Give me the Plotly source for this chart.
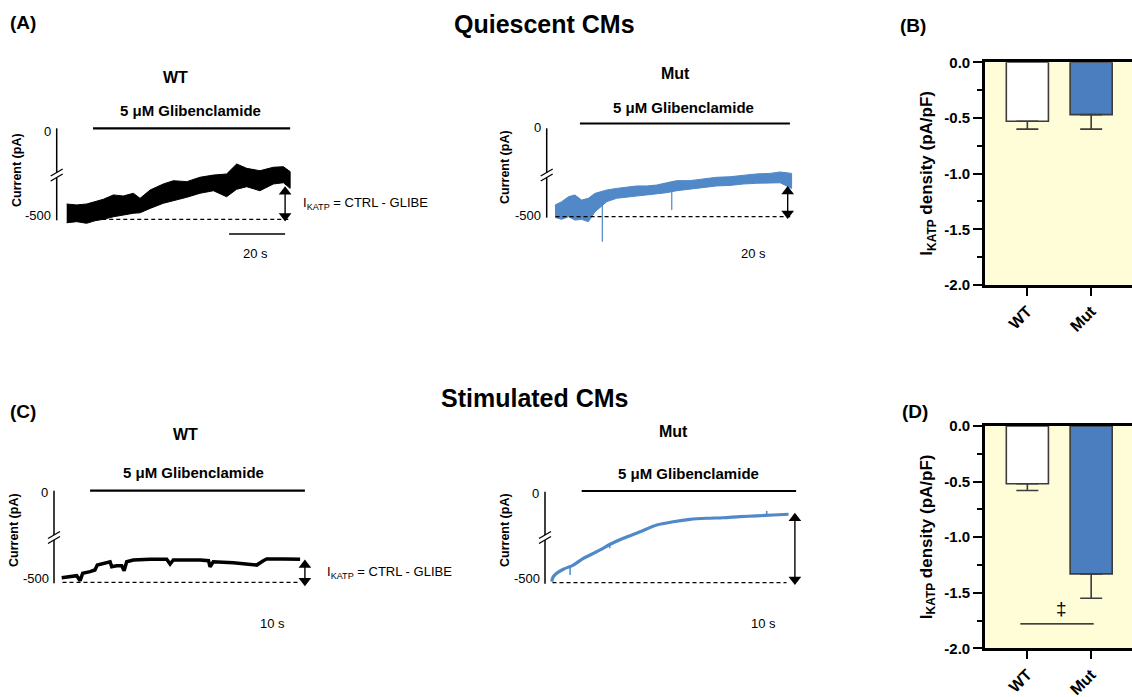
import plotly.graph_objects as go

# ---------------- DATA ----------------
# (A) Quiescent WT: noisy trace envelope (time s, current pA)
A_WT_T = [0.0, 3.6, 7.1, 10.1, 13.1, 16.7, 20.2, 23.8, 26.2, 29.8, 34.5, 38.1,
          42.9, 47.6, 52.4, 57.1, 60.7, 64.3, 69.0, 73.8, 77.4, 79.8]
A_WT_UPPER = [-416, -421, -416, -403, -390, -366, -372, -357, -385, -339, -306, -288,
              -293, -269, -257, -251, -196, -220, -233, -214, -211, -238]
A_WT_LOWER = [-519, -513, -522, -508, -500, -486, -476, -467, -464, -440, -412, -398,
              -379, -357, -343, -376, -335, -321, -343, -306, -299, -330]

# (A) Quiescent Mut
A_MUT_T = [0.0, 2.4, 4.8, 7.1, 9.5, 11.9, 14.3, 18.5, 22.0, 25.6, 29.2, 32.7,
           36.3, 39.9, 43.5, 48.2, 53.0, 57.7, 62.5, 67.3, 72.0, 76.8, 80.4, 84.5]
A_MUT_UPPER = [-434, -415, -387, -377, -406, -396, -368, -349, -340, -334, -326, -326,
               -321, -308, -296, -296, -285, -277, -274, -264, -258, -255, -247, -255]
A_MUT_LOWER = [-504, -515, -500, -519, -515, -528, -472, -415, -396, -390, -383, -377,
               -372, -364, -353, -345, -334, -326, -323, -315, -311, -308, -308, -340]
A_MUT_SPIKE_T = [16.9, 41.7]
A_MUT_SPIKE_FROM = [-420, -360]
A_MUT_SPIKE_TO = [-641, -462]

# (C) Stimulated WT
C_WT_T = [0.0, 2.5, 3.75, 4.6, 5.25, 7.1, 8.3, 8.9, 10.4, 12.1, 12.5, 13.75, 15.0,
          15.6, 16.25, 17.9, 22.1, 26.25, 27.1, 27.9, 34.6, 36.7, 37.1, 37.9, 42.9,
          47.1, 48.75, 50.4, 51.25, 55.4, 59.6]
C_WT_I = [-475, -469, -464, -491, -451, -442, -433, -406, -396, -388, -415, -410, -410,
          -437, -388, -378, -374, -374, -400, -378, -378, -382, -415, -388, -393,
          -400, -406, -382, -373, -373, -374]

# (C) Stimulated Mut
C_MUT_T = [0.0, 0.4, 1.25, 2.9, 5.4, 7.9, 9.6, 12.1, 14.6, 17.9, 22.1, 26.25, 30.4,
           34.6, 38.75, 42.9, 47.1, 51.25, 55.4, 59.2]
C_MUT_I = [-494, -467, -448, -426, -403, -366, -348, -320, -289, -256, -220, -183,
           -165, -152, -146, -143, -137, -133, -128, -124]
C_MUT_SPIKE_T = [4.6, 14.5, 53.75]
C_MUT_SPIKE_FROM = [-408, -290, -130]
C_MUT_SPIKE_TO = [-458, -311, -106]

# Glibenclamide application windows (s)
GLIB = {'A_WT': (9.4, 79.8), 'A_MUT': (8.9, 83.9), 'C_WT': (7.1, 60.8), 'C_MUT': (7.5, 61.1)}
REF_CURRENT = -500          # dashed CTRL level (pA)
SCALE_BAR_S = 20            # (A) time scale bar

# (B)/(D) I_KATP density bars
GROUPS = ['WT', 'Mut']
B_MEAN = [-0.53, -0.47]
B_SEM = [0.07, 0.13]
D_MEAN = [-0.52, -1.33]
D_SEM = [0.06, 0.22]
Y_TICKS = [0.0, -0.5, -1.0, -1.5, -2.0]
Y_TICK_TEXT = ['0.0', '-0.5', '-1.0', '-1.5', '-2.0']

# ---------------- LAYOUT HELPERS ----------------
W, H = 1132, 697
FONT = 'Liberation Sans, Arial, Helvetica, sans-serif'
BLUE_TRACE = '#5088C8'
BLUE_BAR = '#4A7EBF'
CREAM = '#FFFCD8'
EDGE = '#3c3c3c'


def fx(px):
    return px / W


def fy(py):
    return 1 - py / H


PANELS = {
    'A_WT': dict(n=1, box=(30, 95, 300, 245), t0=66.7, kx=2.8, y0=128.3, y5=219.3, axis=56.7, brk=175,
                 glib_y=128.3, adx=-1.8, atop=0.0, abot=0.0),
    'A_MUT': dict(n=2, box=(520, 95, 800, 245), t0=555.0, kx=2.8, y0=128.3, y5=216.7, axis=546.7, brk=175,
                  glib_y=123.5, adx=-1.4, atop=0.0, abot=0.0),
    'C_WT': dict(n=3, box=(30, 460, 315, 600), t0=61.7, kx=4.0, y0=490.7, y5=582.3, axis=54.0, brk=537.5,
                 glib_y=490.7, adx=1.2, atop=-14.0, abot=-10.0),
    'C_MUT': dict(n=4, box=(520, 460, 805, 600), t0=551.7, kx=4.0, y0=491.7, y5=582.7, axis=545.0, brk=537.5,
                  glib_y=491.0, adx=1.6, atop=-4.0, abot=0.0),
}


def val(p, py):
    return -500 * (py - p['y0']) / (p['y5'] - p['y0'])


def tt(p, px):
    return (px - p['t0']) / p['kx']


fig = go.Figure()
layout = {}
shapes = []
annotations = []


def ax_names(n):
    return ('x' if n == 1 else f'x{n}'), ('y' if n == 1 else f'y{n}')


def text(px, py, s, size, bold=False, xanchor='center', angle=0, color='black'):
    annotations.append(dict(xref='paper', yref='paper', x=fx(px), y=fy(py), text=(f'<b>{s}</b>' if bold else s),
                            showarrow=False, xanchor=xanchor, yanchor='middle', textangle=angle,
                            font=dict(family=FONT, size=size, color=color)))


for key, p in PANELS.items():
    n = p['n']
    xa, ya = ax_names(n)
    x0, y0, x1, y1 = p['box']
    layout['xaxis' if n == 1 else f'xaxis{n}'] = dict(domain=[fx(x0), fx(x1)], range=[tt(p, x0), tt(p, x1)],
                                                      visible=False, anchor=ya, fixedrange=True, automargin=False)
    layout['yaxis' if n == 1 else f'yaxis{n}'] = dict(domain=[fy(y1), fy(y0)], range=[val(p, y1), val(p, y0)],
                                                      visible=False, anchor=xa, fixedrange=True, automargin=False)
    # broken vertical current axis (paper coords)
    a = p['axis']
    b = p['brk']
    for (ya0, ya1) in [(p['y0'], b - 2.5), (b + 2.5, p['y5'] + 1)]:
        shapes.append(dict(type='line', xref='paper', yref='paper', x0=fx(a), x1=fx(a), y0=fy(ya0), y1=fy(ya1),
                           line=dict(color='black', width=1.5)))
    for yy in (b - 2.5, b + 2.5):
        shapes.append(dict(type='line', xref='paper', yref='paper', x0=fx(a - 6), x1=fx(a + 6),
                           y0=fy(yy + 3.5), y1=fy(yy - 3.5), line=dict(color='black', width=1.3)))
    # glibenclamide application bar
    g0, g1 = GLIB[key]
    gy = val(p, p['glib_y'])
    shapes.append(dict(type='line', xref=xa, yref=ya, x0=g0, x1=g1, y0=gy, y1=gy,
                       line=dict(color='black', width=2.2)))

# ---- traces ----
def band(t, up, lo, color, n):
    xa, ya = ax_names(n)
    fig.add_trace(go.Scatter(x=t + t[::-1], y=up + lo[::-1], mode='lines', fill='toself', fillcolor=color,
                             line=dict(color=color, width=1.0), xaxis=xa, yaxis=ya, hoverinfo='skip',
                             showlegend=False))


def spikes(ts, frm, to, color, n, w):
    xa, ya = ax_names(n)
    xs, ys = [], []
    for t, a, b in zip(ts, frm, to):
        xs += [t, t, None]
        ys += [a, b, None]
    fig.add_trace(go.Scatter(x=xs, y=ys, mode='lines', line=dict(color=color, width=w), xaxis=xa, yaxis=ya,
                             hoverinfo='skip', showlegend=False))


band(A_WT_T, A_WT_UPPER, A_WT_LOWER, 'black', 1)
band(A_MUT_T, A_MUT_UPPER, A_MUT_LOWER, BLUE_TRACE, 2)
spikes(A_MUT_SPIKE_T, A_MUT_SPIKE_FROM, A_MUT_SPIKE_TO, BLUE_TRACE, 2, 1.2)
fig.add_trace(go.Scatter(x=C_WT_T, y=C_WT_I, mode='lines', line=dict(color='black', width=3.5),
                         xaxis='x3', yaxis='y3', hoverinfo='skip', showlegend=False))
fig.add_trace(go.Scatter(x=C_MUT_T, y=C_MUT_I, mode='lines',
                         line=dict(color=BLUE_TRACE, width=3.2, shape='spline', smoothing=0.8),
                         xaxis='x4', yaxis='y4', hoverinfo='skip', showlegend=False))
spikes(C_MUT_SPIKE_T, C_MUT_SPIKE_FROM, C_MUT_SPIKE_TO, BLUE_TRACE, 4, 1.5)

# dashed CTRL lines and double arrows (I_KATP = CTRL - GLIBE)
ends = {'A_WT': (A_WT_T, A_WT_LOWER), 'A_MUT': (A_MUT_T, A_MUT_LOWER), 'C_WT': (C_WT_T, C_WT_I),
        'C_MUT': (C_MUT_T, C_MUT_I)}
for key, p in PANELS.items():
    xa, ya = ax_names(p['n'])
    t, v = ends[key]
    shapes.append(dict(type='line', xref=xa, yref=ya, x0=t[0] + 0.2, x1=t[-1] - 0.5, y0=REF_CURRENT,
                       y1=REF_CURRENT, line=dict(color='black', width=1.3, dash='4px,3px')))
    xt = t[-1] + p['adx']
    top = v[-1] + p['atop']
    bot = REF_CURRENT + p['abot']
    shapes.append(dict(type='line', xref=xa, yref=ya, x0=xt, x1=xt, y0=top - 12, y1=bot + 12,
                       line=dict(color='black', width=1.4)))
    fig.add_trace(go.Scatter(x=[xt, xt], y=[top - 18, bot + 18], mode='markers', xaxis=xa, yaxis=ya,
                             marker=dict(symbol=['triangle-up', 'triangle-down'], size=11, color='black',
                                         line=dict(width=0)),
                             hoverinfo='skip', showlegend=False))

# scale bar (A, WT)
pA = PANELS['A_WT']
shapes.append(dict(type='line', xref='x', yref='y', x0=A_WT_T[-1] - 1.8 - SCALE_BAR_S, x1=A_WT_T[-1] - 1.8,
                   y0=val(pA, 234), y1=val(pA, 234), line=dict(color='black', width=1.5)))

# ---- bar panels ----
BARS = {'B': dict(n=5, box=(985, 62.3, 1132, 285), mean=B_MEAN, sem=B_SEM),
        'D': dict(n=6, box=(985, 426, 1132, 648.3), mean=D_MEAN, sem=D_SEM)}
for key, b in BARS.items():
    n = b['n']
    x0, y0, x1, y1 = b['box']
    xa, ya = f'x{n}', f'y{n}'
    layout[f'xaxis{n}'] = dict(domain=[fx(x0), 1.0], range=[-0.664, 1.64], anchor=ya, type='category',
                               showline=True, mirror=True, linecolor='black', linewidth=2.6, ticks='outside',
                               ticklen=8, tickwidth=2, tickcolor='black', tickangle=-45, showgrid=False,
                               automargin=False,
                               tickfont=dict(family=FONT, size=16, color='black', weight='bold'), fixedrange=True)
    layout[f'yaxis{n}'] = dict(domain=[fy(y1), fy(y0)], range=[-2.0, 0.0], anchor=xa, showline=True,
                               linecolor='black', linewidth=2.6, ticks='outside', ticklen=9, tickwidth=2,
                               tickcolor='black', tickvals=Y_TICKS, ticktext=Y_TICK_TEXT, showgrid=False,
                               zeroline=False, automargin=False,
                               tickfont=dict(family=FONT, size=15, color='black', weight='bold'),
                               minor=dict(dtick=0.25, tick0=0, ticks='outside', ticklen=5, tickwidth=1.5,
                                          tickcolor='black'), fixedrange=True)
    shapes.append(dict(type='rect', xref=f'{xa} domain', yref=f'{ya} domain', x0=0, x1=1, y0=0, y1=1,
                       fillcolor=CREAM, line=dict(width=0), layer='below'))
    fig.add_trace(go.Bar(x=GROUPS, y=b['mean'], width=0.66, xaxis=xa, yaxis=ya, showlegend=False,
                         marker=dict(color=['white', BLUE_BAR], line=dict(color=EDGE, width=1.6)),
                         error_y=dict(type='data', symmetric=False, array=[0, 0], arrayminus=b['sem'],
                                      color=EDGE, thickness=1.6, width=11), hoverinfo='skip'))
    text(928, (y0 + y1) / 2, 'I<sub>KATP</sub> density (pA/pF)', 17, bold=True, angle=-90)

# significance bar in (D)
shapes.append(dict(type='line', xref='x6', yref='y6', x0=-0.11, x1=1.04, y0=-1.78, y1=-1.78,
                   line=dict(color='black', width=1.2)))
annotations.append(dict(xref='x6', yref='y6', x=0.54, y=-1.64, text='‡', showarrow=False,
                        font=dict(family=FONT, size=19, color='black')))

# ---- texts ----
text(23, 22, '(A)', 19, bold=True)
text(23, 411, '(C)', 19, bold=True)
text(913, 25, '(B)', 19, bold=True)
text(915, 411, '(D)', 19, bold=True)
text(544, 24, 'Quiescent CMs', 25, bold=True)
text(535, 398, 'Stimulated CMs', 25, bold=True)

GLIB_LABEL = '5 μM Glibenclamide'
ik = 'I<sub>KATP</sub> = CTRL - GLIBE'
# A WT
text(175, 77, 'WT', 16, bold=True)
text(190, 110, GLIB_LABEL, 15, bold=True)
text(17, 170, 'Current (pA)', 12.5, bold=True, angle=-90)
text(53, 131, '0', 13, xanchor='right')
text(53, 215, '-500', 13, xanchor='right')
text(301, 203, ik, 13, xanchor='left')
text(255, 253, '20 s', 13)
# A Mut
text(675, 73, 'Mut', 16, bold=True)
text(683, 107, GLIB_LABEL, 15, bold=True)
text(505, 167, 'Current (pA)', 12.5, bold=True, angle=-90)
text(543, 128, '0', 13, xanchor='right')
text(543, 216, '-500', 13, xanchor='right')
text(753, 253, '20 s', 13)
# C WT
text(185, 434, 'WT', 16, bold=True)
text(193, 472, GLIB_LABEL, 15, bold=True)
text(14, 530, 'Current (pA)', 12.5, bold=True, angle=-90)
text(50, 492, '0', 13, xanchor='right')
text(51, 578, '-500', 13, xanchor='right')
text(325, 572, ik, 13, xanchor='left')
text(272, 623, '10 s', 13)
# C Mut
text(673, 432, 'Mut', 16, bold=True)
text(688, 473, GLIB_LABEL, 15, bold=True)
text(505, 530, 'Current (pA)', 12.5, bold=True, angle=-90)
text(541, 493, '0', 13, xanchor='right')
text(542, 578, '-500', 13, xanchor='right')
text(763, 623, '10 s', 13)

fig.update_layout(width=W, height=H, margin=dict(l=0, r=0, t=0, b=0), paper_bgcolor='white',
                  plot_bgcolor='rgba(0,0,0,0)', showlegend=False, shapes=shapes, annotations=annotations,
                  font=dict(family=FONT, color='black'), **layout)
fig.write_html('out.html', config={'displayModeBar': False})
